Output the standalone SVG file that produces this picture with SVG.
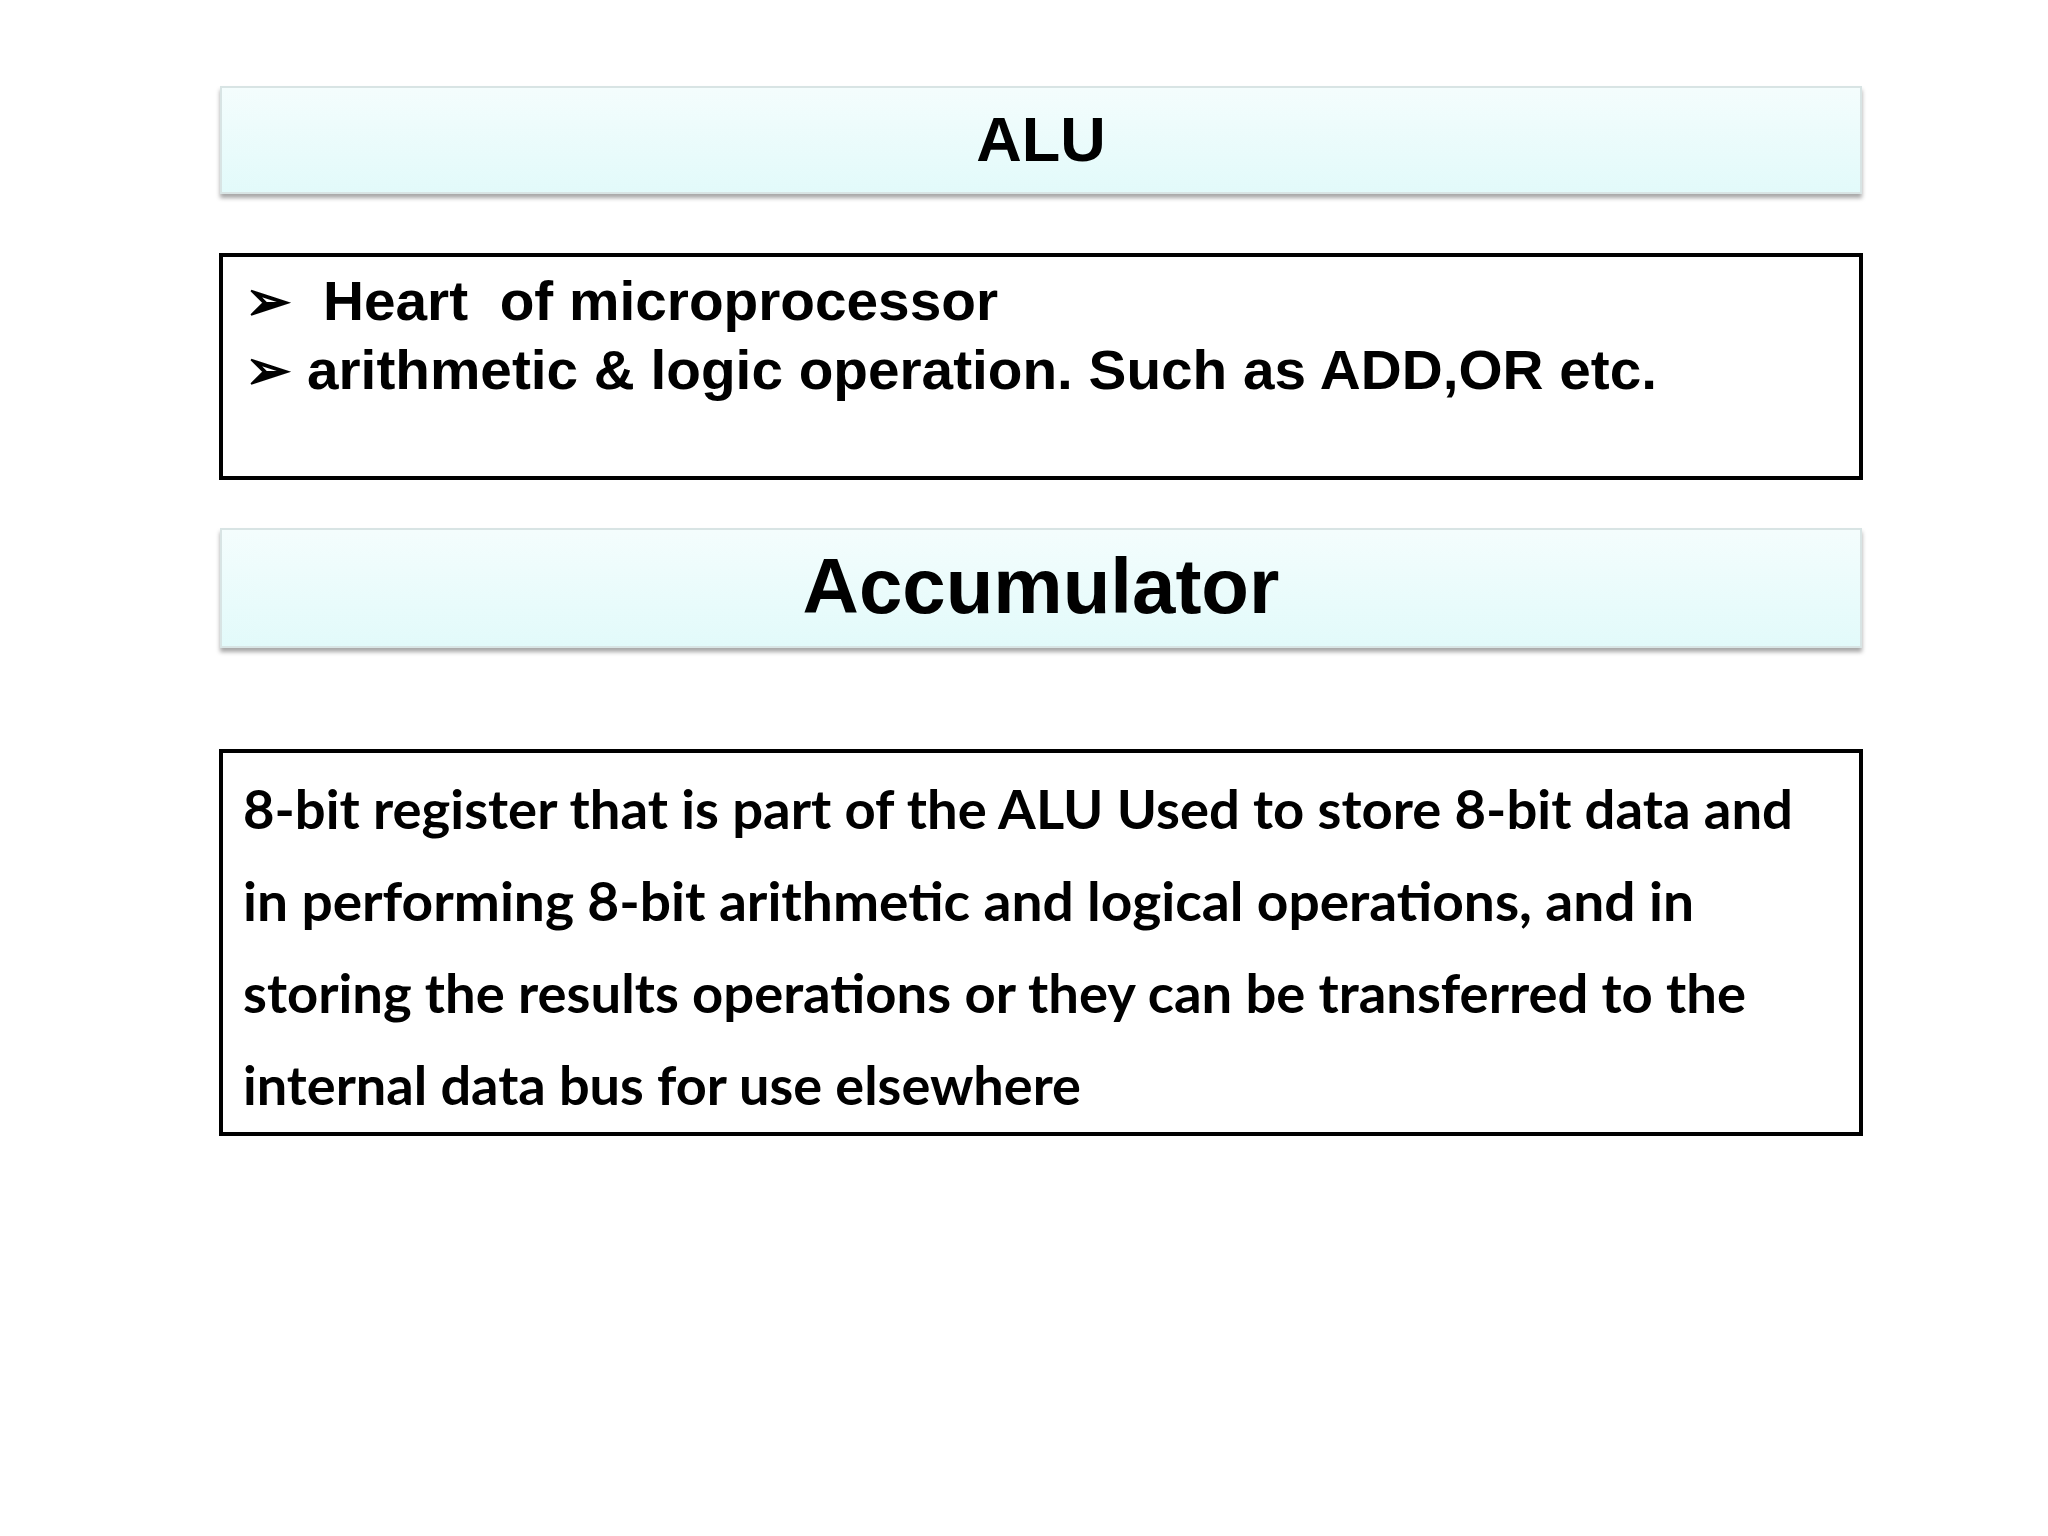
<svg xmlns="http://www.w3.org/2000/svg" width="2048" height="1536" viewBox="0 0 2048 1536">
<defs>
<linearGradient id="hg" x1="0" y1="0" x2="0" y2="1"><stop offset="0" stop-color="#f4fdfd"/><stop offset="1" stop-color="#e2fafa"/></linearGradient>
<filter id="sh" x="-5%" y="-20%" width="110%" height="150%"><feDropShadow dx="0" dy="4" stdDeviation="2" flood-color="#000" flood-opacity="0.35"/></filter>
</defs>
<style>
.hdr{fill:url(#hg);stroke:#d8e4e4;stroke-width:2;filter:url(#sh)}
.box{fill:#fff;stroke:#000;stroke-width:4}
.h{font-family:"Liberation Sans",Arial,sans-serif;font-weight:bold;fill:#000;text-anchor:middle}
.b{font-family:"Liberation Sans",Arial,sans-serif;font-weight:bold;font-size:55px;fill:#000}
.p{font-family:Lato,"Open Sans",sans-serif;font-weight:bold;font-size:53px;fill:#000}
</style>
<rect width="2048" height="1536" fill="#fff"/>
<g id="alu-header"><rect class="hdr" x="221" y="87" width="1640" height="106"/><text class="h" x="1041" y="161" font-size="63">ALU</text></g>
<g id="alu-body"><rect class="box" x="221" y="255" width="1640" height="223"/>
<text class="b" x="245" y="320" font-size="44">➢</text><text class="b" x="323" y="320" xml:space="preserve" textLength="675" lengthAdjust="spacingAndGlyphs">Heart  of microprocessor</text>
<text class="b" x="245" y="389" font-size="44">➢</text><text class="b" x="307" y="389" textLength="1350" lengthAdjust="spacingAndGlyphs">arithmetic &amp; logic operation. Such as ADD,OR etc.</text></g>
<g id="acc-header"><rect class="hdr" x="221" y="529" width="1640" height="118"/><text class="h" x="1041" y="613" font-size="78">Accumulator</text></g>
<g id="acc-body"><rect class="box" x="221" y="751" width="1640" height="383"/>
<text class="p" x="243" y="829" textLength="1550" lengthAdjust="spacingAndGlyphs">8-bit register that is part of the ALU Used to store 8-bit data and</text>
<text class="p" x="243" y="921" textLength="1451" lengthAdjust="spacingAndGlyphs">in performing 8-bit arithmetic and logical operations, and in</text>
<text class="p" x="243" y="1013" textLength="1503" lengthAdjust="spacingAndGlyphs">storing the results operations or they can be transferred to the</text>
<text class="p" x="243" y="1105" textLength="838" lengthAdjust="spacingAndGlyphs">internal data bus for use elsewhere</text></g>
<g id="connectors"/>
</svg>
